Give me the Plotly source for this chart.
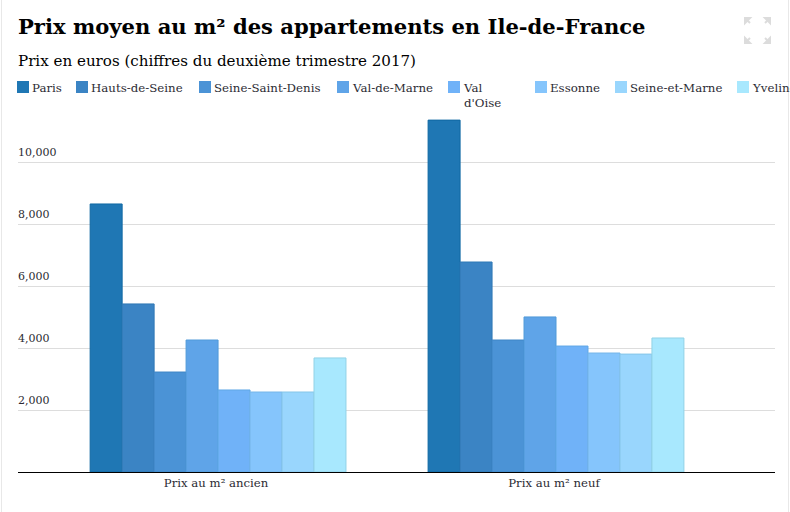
import plotly.graph_objects as go

categories = ["Prix au m² ancien", "Prix au m² neuf"]
departements = ["Paris", "Hauts-de-Seine", "Seine-Saint-Denis", "Val-de-Marne", "Val<br>d'Oise",
                "Essonne", "Seine-et-Marne", "Yvelines"]
ancien = [8660, 5430, 3230, 4265, 2650, 2585, 2585, 3685]
neuf = [11370, 6785, 4265, 5010, 4070, 3845, 3810, 4330]
tick_values = [2000, 4000, 6000, 8000, 10000]
tick_labels = ["2,000", "4,000", "6,000", "8,000", "10,000"]

colors = ["#1f77b4", "#3b84c4", "#4b93d6", "#5fa4e8", "#70b2f8", "#85c5fc", "#99d6fd", "#a8e8fe"]
borders = ["#0f68a3", "#2f78b5", "#3f86c6", "#509ad9", "#60a8e6", "#76b6e8", "#85c5e8", "#92d2e6"]
legend_x = [17, 76, 199, 337, 448, 535, 615, 737]

W, H = 790, 512
L, R, T, B = 18, 775, 112, 472
FONT = "DejaVu Serif"
INK = "#2b2b33"
px = lambda x: (x - L) / (R - L)
py = lambda y: (B - y) / (B - T)

fig = go.Figure()
for i, name in enumerate(departements):
    fig.add_trace(go.Bar(
        x=categories, y=[ancien[i], neuf[i]], name=name.replace("<br>", " "),
        marker=dict(color=colors[i], line=dict(color=borders[i], width=1)),
        showlegend=False,
    ))

shapes = []
annotations = [
    dict(x=px(16), y=py(27), text="<b>Prix moyen au m² des appartements en Ile-de-France</b>",
         font=dict(size=21.1, color="#000000", family=FONT)),
    dict(x=px(16), y=py(60.5), text="Prix en euros (chiffres du deuxième trimestre 2017)",
         font=dict(size=15.1, color="#000000", family=FONT)),
]
for a in annotations:
    a.update(xref="paper", yref="paper", xanchor="left", yanchor="middle", showarrow=False)
for i, name in enumerate(departements):
    x0 = legend_x[i]
    shapes.append(dict(type="rect", xref="paper", yref="paper", x0=px(x0), x1=px(x0 + 12),
                       y0=py(93), y1=py(81), fillcolor=colors[i], line=dict(width=0)))
    annotations.append(dict(xref="paper", yref="paper", x=px(x0 + 13), y=py(79), text=name,
                            xanchor="left", yanchor="top", align="left", showarrow=False,
                            font=dict(size=11.8, color=INK, family=FONT)))

# page edges
for xe in (1.5, 788.5):
    shapes.append(dict(type="line", xref="paper", yref="paper", x0=px(xe), x1=px(xe), y0=py(0), y1=py(H),
                       line=dict(color="#e8e8e8", width=1)))
# fullscreen icon
for (cx, cy, dx, dy) in [(751, 24, -1, -1), (764, 24, 1, -1), (751, 37, -1, 1), (764, 37, 1, 1)]:
    pts = [(cx + dx * 6, cy + dy * 6), (cx + dx * 1, cy + dy * 6), (cx + dx * 6, cy + dy * 1)]
    d = "M" + " L".join(f"{px(a):.4f},{py(b):.4f}" for a, b in pts) + " Z"
    shapes.append(dict(type="path", xref="paper", yref="paper", path=d, fillcolor="#dcdcdc",
                       line=dict(color="#dcdcdc", width=2)))
    shapes.append(dict(type="line", xref="paper", yref="paper", x0=px(cx + dx * 1), y0=py(cy + dy * 1),
                       x1=px(cx + dx * 5), y1=py(cy + dy * 5), line=dict(color="#dcdcdc", width=2)))

fig.update_layout(
    width=W, height=H, margin=dict(l=L, r=W - R, t=T, b=H - B, autoexpand=False),
    paper_bgcolor="white", plot_bgcolor="white",
    barmode="group", bargap=0.243, bargroupgap=0,
    font=dict(family=FONT, size=11, color=INK),
    shapes=shapes, annotations=annotations,
    xaxis=dict(type="category", range=[-0.592, 1.648], showgrid=False, ticks="",
               showline=True, linecolor="#000000", linewidth=1, zeroline=False, ticklabelshift=-2,
               tickfont=dict(size=11.7, color=INK, family=FONT)),
    yaxis=dict(range=[0, 11632], tickvals=tick_values, ticktext=tick_labels, showline=False,
               gridcolor="#dddddd", gridwidth=1, zeroline=False, ticks="",
               ticklabelposition="inside", ticklabelshift=-10, ticklabelstandoff=-3,
               tickfont=dict(size=11, color=INK, family=FONT)),
)

fig.write_html("out.html", config=dict(displayModeBar=False),
               post_script="document.body.style.margin='0';document.documentElement.style.overflow='hidden';")
